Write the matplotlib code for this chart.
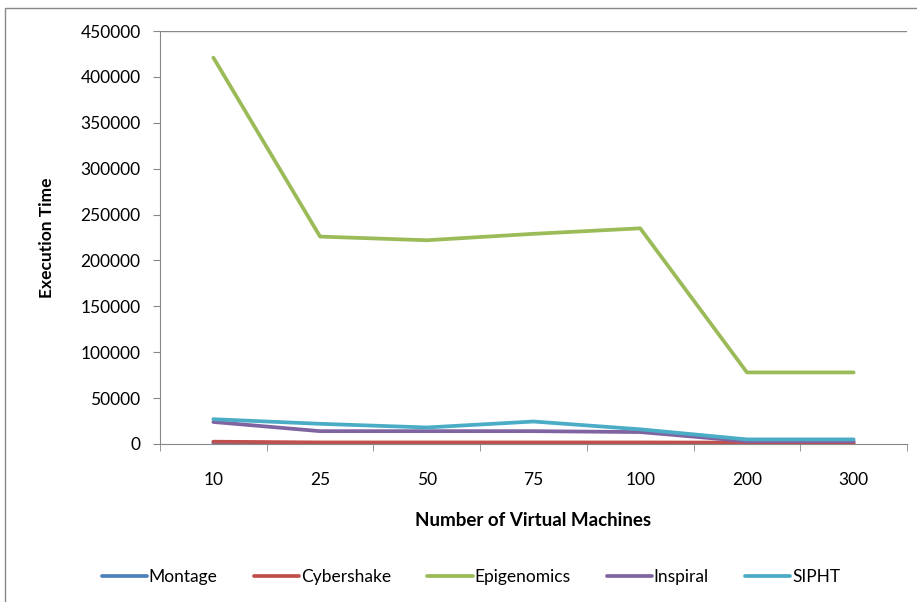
import matplotlib.pyplot as plt
from matplotlib.patches import Rectangle

plt.rcParams['font.family'] = ['Lato', 'DejaVu Sans']

vm_counts = ["10", "25", "50", "75", "100", "200", "300"]
montage = [1000, 800, 800, 800, 800, 700, 700]
cybershake = [2500, 1700, 1700, 1700, 1700, 1500, 1500]
epigenomics = [421000, 226000, 222000, 229000, 235000, 78000, 78000]
inspiral = [24000, 14000, 14000, 14000, 13000, 3000, 3000]
sipht = [27000, 22000, 18000, 24500, 16000, 5000, 5000]

series = [
    ("Montage", montage, "#4F81BD"),
    ("Cybershake", cybershake, "#C0504D"),
    ("Epigenomics", epigenomics, "#9BBB59"),
    ("Inspiral", inspiral, "#8064A2"),
    ("SIPHT", sipht, "#4BACC6"),
]

fig = plt.figure(figsize=(9.17, 6.02), dpi=100)
ax = fig.add_axes([160 / 917, 1 - 444 / 602, 747 / 917, 413 / 602])

x = range(len(vm_counts))
for name, vals, color in series:
    ax.plot(x, vals, color=color, linewidth=2.7, label=name, solid_capstyle="round")

ax.set_xlim(-0.5, len(vm_counts) - 0.5)
ax.set_ylim(0, 450000)
ax.set_yticks(range(0, 450001, 50000))
ax.set_xticks(list(x))
ax.set_xticklabels(vm_counts)
ax.set_xticks([i - 0.5 for i in range(len(vm_counts) + 1)], minor=True)
ax.tick_params(axis="x", which="major", length=0, pad=20, labelsize=12.5)
ax.tick_params(axis="x", which="minor", length=5, color="#888888")
ax.tick_params(axis="y", length=5, color="#888888", labelsize=12.5, pad=9)

for side in ["top", "right"]:
    ax.spines[side].set_visible(False)
for side in ["left", "bottom"]:
    ax.spines[side].set_color("#888888")
ax.axhline(450000, color="#888888", linewidth=1)

fig.text(47 / 917, 1 - 238 / 602, "Execution Time", rotation=90,
         ha="center", va="center", fontweight="bold", fontsize=12.5)
fig.text(533 / 917, 1 - 520 / 602, "Number of Virtual Machines",
         ha="center", va="center", fontweight="bold", fontsize=13.5)

ax.legend(loc="center", bbox_to_anchor=(471 / 917, 1 - 577 / 602),
          bbox_transform=fig.transFigure, ncol=5, frameon=False, fontsize=12.5,
          handlelength=2.6, columnspacing=2.1, handletextpad=0.1)

fig.patches.append(Rectangle((5 / 917, -0.05), 1.2, 1 - 8 / 602 + 0.05,
                             transform=fig.transFigure, fill=False,
                             edgecolor="#888888", linewidth=1))

fig.savefig("out.png", dpi=100)
